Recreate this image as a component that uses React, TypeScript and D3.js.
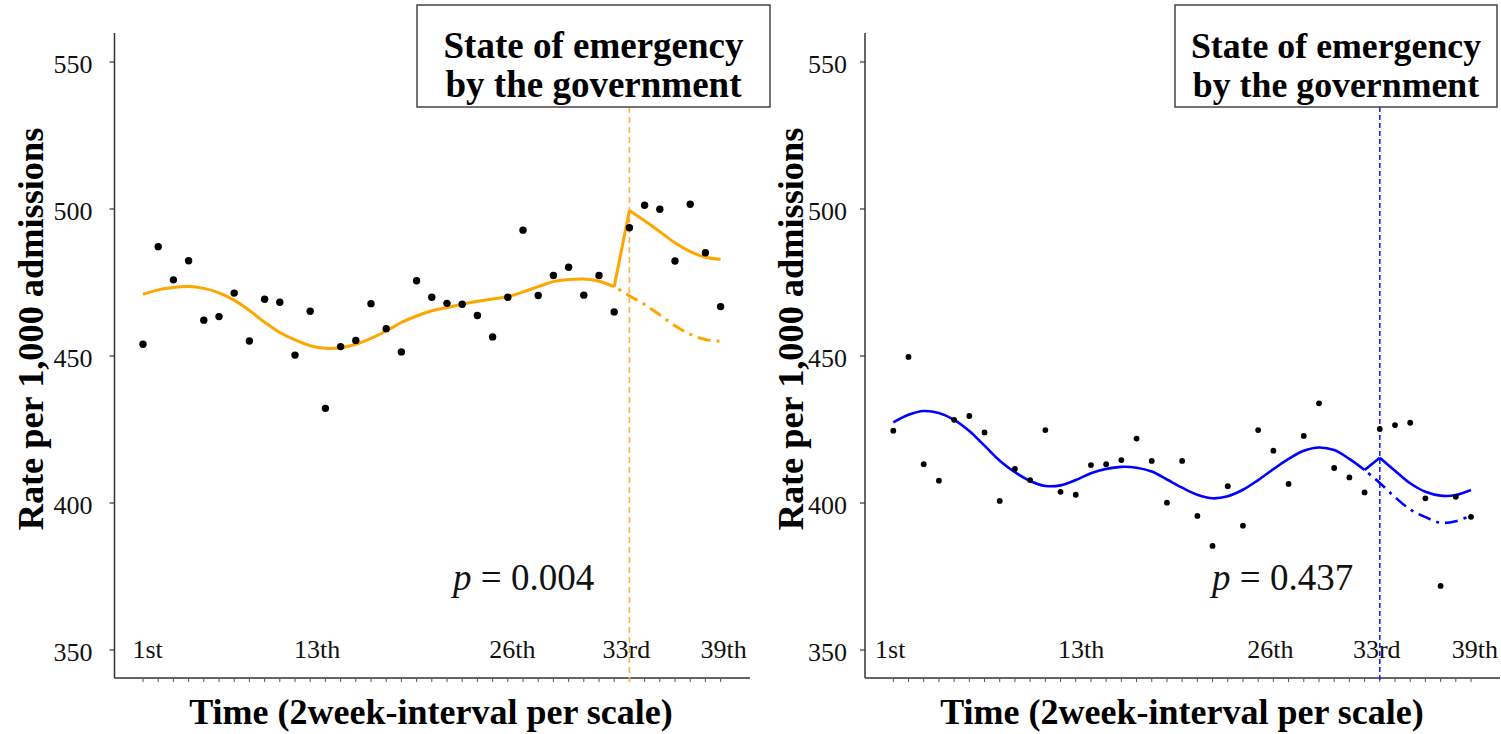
import React from "react";
import * as d3 from "d3";

// ---------- data ----------
const periods = [1,2,3,4,5,6,7,8,9,10,11,12,13,14,15,16,17,18,19,20,21,22,23,24,25,26,27,28,29,30,31,32,33,34,35,36,37,38,39];
const interventionPeriod = 33;
const yTicks = [350, 400, 450, 500, 550];
const xTickLabels = ["1st", "13th", "26th", "33rd", "39th"];
const leftTickLabelAt = [1.3, 12.45, 25.3, 32.8, 39.2];
const rightTickLabelAt = [0.8, 13.35, 25.8, 32.8, 39.25];

const leftObserved = [454.0, 487.2, 475.9, 482.4, 462.2, 463.4, 471.4, 455.1, 469.3, 468.3, 450.3, 465.2, 432.2, 453.2, 455.3, 467.8, 459.3, 451.4, 475.6, 470.0, 467.9, 467.6, 463.8, 456.5, 470.0, 492.8, 470.6, 477.4, 480.2, 470.7, 477.4, 465.0, 493.6, 501.3, 499.9, 482.3, 501.6, 485.1, 466.8];
const leftFitted = [471.0, 472.5, 473.3, 473.6, 473.0, 471.5, 469.0, 465.5, 461.5, 458.0, 455.5, 453.5, 452.6, 452.8, 454.0, 456.0, 458.5, 461.4, 463.6, 465.4, 466.5, 467.6, 468.6, 469.4, 470.2, 471.8, 473.6, 475.3, 476.0, 476.2, 475.4, 473.6, 499.5, 496.0, 492.3, 488.5, 485.5, 483.6, 482.9];
const leftCounterfactual = [473.6, 470.5, 467.5, 464.0, 460.3, 457.4, 455.6, 455.0];

const rightObserved = [424.6, 449.7, 413.2, 407.6, 428.3, 429.6, 424.0, 400.7, 411.6, 407.8, 424.8, 403.8, 402.8, 412.9, 413.2, 414.6, 421.9, 414.3, 400.1, 414.3, 395.6, 385.4, 405.7, 392.3, 424.8, 417.8, 406.5, 422.8, 433.9, 411.9, 408.7, 403.6, 425.2, 426.5, 427.3, 401.6, 371.8, 402.1, 395.3];
const rightFitted = [427.4, 430.0, 431.3, 430.6, 428.3, 424.5, 419.5, 414.4, 410.5, 407.5, 405.8, 406.0, 407.8, 410.1, 411.6, 412.3, 412.0, 410.7, 408.0, 405.2, 402.8, 401.6, 402.3, 404.5, 407.8, 411.5, 415.0, 417.8, 418.9, 418.0, 415.0, 411.2, 415.4, 411.0, 406.7, 403.8, 402.5, 402.7, 404.4];
const rightCounterfactual = [411.2, 406.8, 402.0, 397.8, 395.2, 393.3, 393.8, 395.7];

const pValues = ["0.004", "0.437"];
const boxLines = ["State of emergency", "by the government"];

// ---------- layout ----------
const FONT = "'Liberation Serif', 'Times New Roman', Times, serif";
const yScale = d3.scaleLinear().domain([350, 550]).range([650, 62]);
const AXIS_TOP = 33;
const AXIS_Y = 678;

type PanelProps = {
  axisX: number;
  xRange: [number, number];
  axisEnd: number;
  observed: number[];
  fitted: number[];
  counterfactual: number[];
  color: string;
  lineColor: string;
  lineWidth: number;
  dotR: number;
  dash: string;
  labelAt: number[];
  box: { x: number; w: number; fs: number };
  pX: number;
  pVal: string;
  yTitleX: number;
  xTitleX: number;
  labelGap: number;
};

function Panel(p: PanelProps) {
  const x = d3.scaleLinear().domain([1, 39]).range(p.xRange);
  const k = periods.indexOf(interventionPeriod);
  const preIdx = periods.slice(0, k);
  const postIdx = periods.slice(k);
  const fitLine = d3.line<number>().x((t) => x(t)).y((t) => yScale(p.fitted[t - 1]));
  const prePath = fitLine.curve(d3.curveCatmullRom.alpha(0.5))(preIdx) || "";
  const postPath = fitLine.curve(d3.curveCatmullRom.alpha(0.5))(postIdx) || "";
  const jumpPath = fitLine.curve(d3.curveLinear)([interventionPeriod - 1, interventionPeriod]) || "";
  const cfPeriods = periods.slice(k - 1);
  const cfPath = d3.line<number>().x((_, i) => x(cfPeriods[i])).y((d) => yScale(d)).curve(d3.curveCatmullRom.alpha(0.5))(p.counterfactual) || "";
  const xi = x(interventionPeriod);
  const bx = p.box.x + p.box.w / 2;
  return (
    <g>
      {/* y axis */}
      <line x1={p.axisX} x2={p.axisX} y1={AXIS_TOP} y2={AXIS_Y} stroke="#333" strokeWidth={1.5} />
      {yTicks.map((t) => (
        <g key={t}>
          <line x1={p.axisX - 5} x2={p.axisX} y1={yScale(t)} y2={yScale(t)} stroke="#333" strokeWidth={1.2} />
          <text x={p.axisX - p.labelGap} y={yScale(t) + 11} textAnchor="end" fontFamily={FONT} fontSize={26} fill="#111">{t}</text>
        </g>
      ))}
      {/* x axis */}
      <line x1={p.axisX} x2={p.axisEnd} y1={AXIS_Y} y2={AXIS_Y} stroke="#333" strokeWidth={1.5} />
      {periods.map((t) => (
        <line key={t} x1={x(t)} x2={x(t)} y1={AXIS_Y} y2={AXIS_Y + 4} stroke="#555" strokeWidth={1} />
      ))}
      {xTickLabels.map((l, i) => (
        <text key={l} x={x(p.labelAt[i])} y={658} textAnchor="middle" fontFamily={FONT} fontSize={26} fill="#111">{l}</text>
      ))}
      {/* intervention line */}
      <line x1={xi} x2={xi} y1={107} y2={AXIS_Y + 4} stroke={p.lineColor} strokeWidth={1.6} strokeDasharray={p.dash} />
      {/* fitted */}
      <path d={prePath} fill="none" stroke={p.color} strokeWidth={p.lineWidth} strokeLinejoin="round" />
      <path d={jumpPath} fill="none" stroke={p.color} strokeWidth={p.lineWidth} strokeLinejoin="round" />
      <path d={postPath} fill="none" stroke={p.color} strokeWidth={p.lineWidth} strokeLinejoin="round" />
      <path d={cfPath} fill="none" stroke={p.color} strokeWidth={p.lineWidth} strokeDasharray="13 6 3 6" strokeDashoffset={-14} />
      {/* points */}
      {p.observed.map((v, i) => (
        <circle key={i} cx={x(periods[i])} cy={yScale(v)} r={p.dotR} fill="#000" />
      ))}
      {/* p-value */}
      <text x={p.pX} y={590} fontFamily={FONT} fontSize={37} fill="#111">
        <tspan fontStyle="italic">p</tspan> = {p.pVal}
      </text>
      {/* box */}
      <rect x={p.box.x} y={5} width={p.box.w} height={102} fill="#fff" stroke="#444" strokeWidth={1.5} />
      <text x={bx} y={57.5} textAnchor="middle" fontFamily={FONT} fontWeight="bold" fontSize={p.box.fs} fill="#000">{boxLines[0]}</text>
      <text x={bx} y={96.5} textAnchor="middle" fontFamily={FONT} fontWeight="bold" fontSize={p.box.fs} fill="#000">{boxLines[1]}</text>
      {/* titles */}
      <text transform={`translate(${p.yTitleX},329) rotate(-90)`} textAnchor="middle" fontFamily={FONT} fontWeight="bold" fontSize={36.3} fill="#000">Rate per 1,000 admissions</text>
      <text x={p.xTitleX} y={724} textAnchor="middle" fontFamily={FONT} fontWeight="bold" fontSize={36} fill="#000">Time (2week-interval per scale)</text>
    </g>
  );
}

export default function App() {
  return (
    <svg width={1501} height={734} style={{ position: "absolute", left: 0, top: 0, background: "#fff" }}>
      <rect x={0} y={0} width={1501} height={734} fill="#fff" />
      <Panel
        axisX={114.5}
        xRange={[143, 720.6]}
        axisEnd={750}
        observed={leftObserved}
        fitted={leftFitted}
        counterfactual={leftCounterfactual}
        color="#FFA500"
        lineColor="#FFB23A"
        lineWidth={3}
        dotR={3.7}
        dash="6 4"
        labelAt={leftTickLabelAt}
        box={{ x: 417, w: 353, fs: 37 }}
        pX={453}
        pVal={pValues[0]}
        yTitleX={43}
        xTitleX={431}
        labelGap={22}
      />
      <Panel
        axisX={865}
        xRange={[893.3, 1471]}
        axisEnd={1500}
        observed={rightObserved}
        fitted={rightFitted}
        counterfactual={rightCounterfactual}
        color="#0000FF"
        lineColor="#2020F0"
        lineWidth={2.6}
        dotR={2.9}
        dash="5 3"
        labelAt={rightTickLabelAt}
        box={{ x: 1175, w: 322, fs: 35.8 }}
        pX={1212}
        pVal={pValues[1]}
        yTitleX={803}
        xTitleX={1182}
        labelGap={18}
      />
    </svg>
  );
}
